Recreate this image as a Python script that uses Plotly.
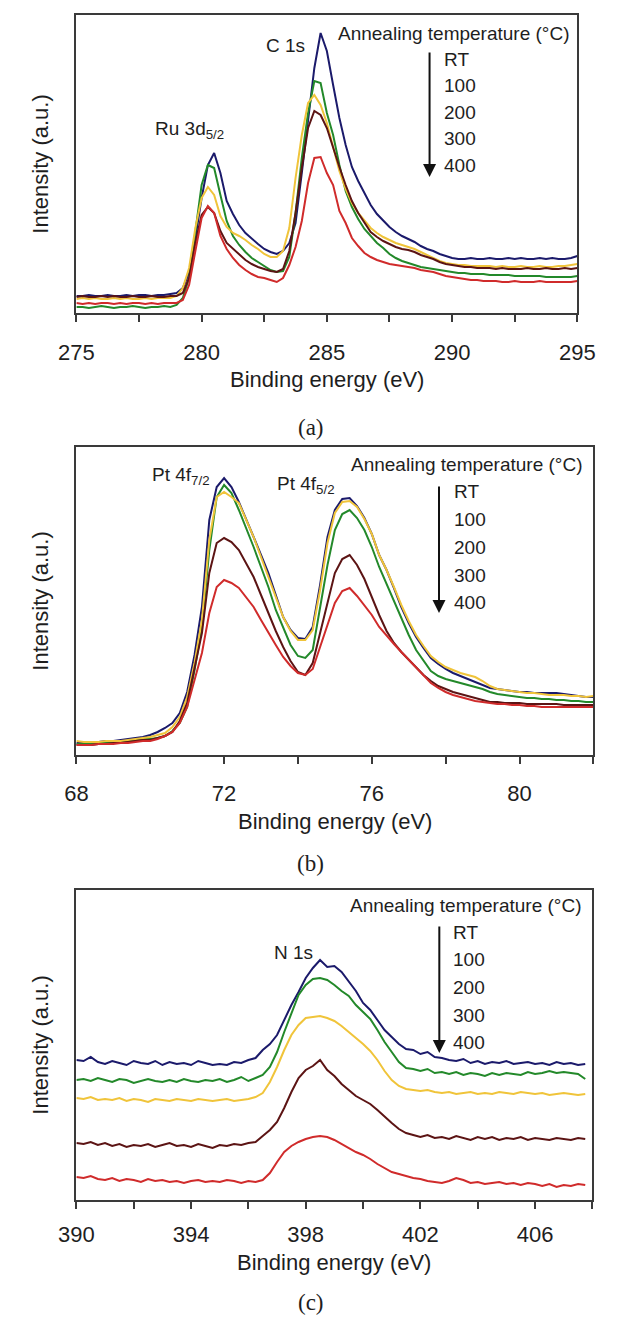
import numpy as np
import plotly.graph_objects as go

W, H = 617, 1322

# ---------------- DATA ----------------
series_names = ["RT", "100", "200", "300", "400"]
colors = ["#1b1a6b", "#23892a", "#f0c43a", "#5c1414", "#d02b2b"]

# Panel (a): Ru 3d / C 1s, 275-295 eV every 0.25 eV
energy_a = np.round(np.arange(275.0, 295.001, 0.25), 2)
a_rt = [17, 17, 18, 17, 17, 18, 17, 17, 18, 17, 18, 18, 17, 18, 18, 19,
        20, 25, 40, 75, 115, 148, 160, 140, 112, 99, 88, 80, 74, 69, 64, 61,
        59, 62, 70, 90, 140, 195, 245, 280, 262, 228, 195, 168, 146, 132, 120, 108,
        99, 92, 86, 81, 77, 74, 71, 67, 64, 62, 59, 57, 55, 54, 54, 55,
        54, 54, 55, 54, 54, 55, 54, 55, 54, 54, 55, 54, 55, 54, 54, 55, 57]
a_100 = [6, 6, 5, 6, 7, 6, 5, 6, 6, 7, 6, 5, 6, 6, 7, 6,
         8, 15, 35, 80, 128, 148, 145, 118, 92, 77, 68, 61, 55, 51, 47, 43,
         41, 42, 56, 100, 155, 200, 232, 230, 200, 178, 148, 122, 106, 94, 84, 77,
         70, 65, 59, 55, 52, 50, 48, 46, 45, 44, 43, 42, 41, 40, 40, 39,
         39, 39, 38, 38, 38, 38, 37, 37, 37, 37, 37, 36, 36, 36, 36, 36, 37]
a_200 = [14, 15, 14, 15, 14, 14, 15, 14, 15, 14, 14, 15, 14, 15, 15, 15,
         17, 25, 45, 85, 115, 126, 118, 97, 86, 80, 77, 73, 68, 64, 59, 56,
         56, 62, 85, 135, 178, 210, 218, 208, 190, 165, 142, 124, 110, 100, 92, 85,
         80, 76, 73, 70, 68, 66, 64, 61, 58, 55, 52, 50, 49, 48, 48, 47,
         47, 47, 47, 46, 47, 46, 46, 47, 46, 46, 47, 46, 46, 47, 47, 48, 49]
a_300 = [16, 17, 16, 16, 17, 16, 17, 16, 16, 17, 16, 16, 17, 16, 16, 17,
         17, 20, 35, 70, 98, 106, 100, 82, 70, 64, 58, 53, 49, 46, 44, 42,
         41, 44, 62, 100, 145, 185, 202, 198, 185, 165, 146, 128, 112, 100, 90, 81,
         76, 72, 69, 66, 64, 63, 61, 58, 56, 54, 51, 49, 48, 47, 46, 46,
         45, 45, 45, 44, 45, 44, 44, 44, 45, 44, 44, 45, 44, 44, 45, 44, 45]
a_400 = [10, 9, 10, 9, 10, 10, 9, 10, 9, 10, 10, 9, 10, 9, 10, 10,
         10, 13, 28, 62, 95, 107, 100, 77, 64, 55, 48, 43, 39, 36, 35, 33,
         31, 35, 48, 66, 92, 130, 155, 156, 140, 128, 102, 90, 75, 67, 60, 56,
         53, 51, 49, 48, 47, 46, 45, 43, 42, 41, 39, 37, 36, 35, 34, 33,
         33, 32, 32, 32, 31, 31, 32, 31, 31, 31, 32, 31, 31, 31, 31, 31, 32]

# Panel (b): Pt 4f, 68-82 eV every 0.2 eV
energy_b = np.round(np.arange(68.0, 82.001, 0.2), 2)
b_rt = [12, 12, 13, 13, 14, 14, 15, 16, 17, 18, 20, 23, 27, 32, 42, 63,
        100, 148, 235, 268, 277, 268, 253, 236, 218, 200, 182, 160, 138, 125, 117, 116,
        128, 170, 218, 245, 256, 257, 249, 237, 221, 200, 185, 167, 148, 132, 118, 107,
        97, 91, 86, 82, 79, 76, 73, 70, 67, 66, 65, 64, 63, 63, 62, 62,
        62, 62, 61, 60, 59, 58, 58]
b_100 = [11, 11, 11, 12, 12, 13, 13, 14, 15, 16, 16, 17, 19, 24, 32, 48,
         85, 128, 205, 258, 270, 262, 245, 227, 208, 188, 168, 145, 128, 110, 99, 97,
         105, 148, 190, 225, 241, 245, 237, 225, 208, 188, 171, 154, 136, 120, 105, 94,
         84, 79, 76, 74, 72, 70, 68, 66, 63, 61, 60, 59, 58, 57, 57, 56,
         56, 55, 55, 54, 54, 53, 53]
b_200 = [14, 13, 13, 13, 14, 14, 14, 15, 16, 17, 18, 20, 22, 28, 38, 58,
         92, 135, 215, 258, 263, 258, 252, 235, 218, 198, 178, 158, 138, 124, 115, 115,
         125, 165, 212, 242, 253, 254, 248, 236, 221, 200, 185, 168, 150, 134, 120, 109,
         99, 93, 88, 85, 82, 80, 78, 74, 69, 66, 65, 64, 63, 62, 62, 61,
         60, 60, 60, 59, 59, 58, 59]
b_300 = [10, 10, 10, 11, 11, 12, 12, 13, 14, 15, 15, 17, 19, 23, 34, 52,
         88, 122, 182, 212, 217, 213, 205, 192, 178, 160, 142, 124, 108, 94, 83, 80,
         92, 122, 155, 182, 196, 200, 190, 176, 158, 140, 124, 112, 103, 95, 87, 80,
         74, 69, 66, 63, 61, 59, 57, 55, 53, 53, 52, 52, 52, 51, 51, 51,
         51, 51, 50, 50, 50, 50, 50]
b_400 = [10, 10, 10, 11, 11, 11, 12, 12, 13, 14, 14, 16, 19, 23, 32, 48,
         75, 102, 142, 168, 175, 172, 167, 158, 148, 135, 122, 110, 98, 89, 82, 80,
         86, 108, 130, 152, 164, 167, 159, 149, 140, 128, 119, 111, 103, 95, 87, 80,
         72, 67, 63, 60, 58, 56, 54, 53, 52, 51, 51, 50, 50, 49, 49, 48,
         48, 48, 48, 48, 48, 48, 48]

# Panel (c): N 1s, 390-407.75 eV every 0.25 eV
energy_c = np.round(np.arange(390.0, 407.751, 0.25), 2)
c_rt = [140, 139, 143, 138, 136, 139, 137, 135, 139, 137, 136, 139, 135, 138, 136, 137,
        135, 139, 137, 135, 136, 135, 138, 137, 140, 142, 150, 156, 165, 180, 195, 208,
        222, 232, 240, 233, 234, 228, 218, 209, 197, 190, 180, 170, 163, 156, 151, 150,
        146, 148, 143, 142, 140, 139, 141, 137, 139, 136, 138, 137, 139, 136, 137, 138,
        136, 137, 135, 138, 136, 137, 135, 136]
c_100 = [120, 121, 119, 122, 120, 118, 121, 120, 117, 119, 121, 119, 118, 120, 118, 121,
         119, 118, 120, 119, 121, 118, 120, 123, 119, 122, 125, 133, 148, 168, 187, 205,
         215, 221, 222, 220, 215, 209, 204, 195, 188, 181, 170, 158, 148, 138, 132, 131,
         129, 131, 127, 128, 126, 128, 125, 127, 126, 124, 127, 125, 127, 126, 125, 128,
         126, 127, 129, 127, 128, 127, 126, 121]
c_200 = [102, 101, 103, 100, 101, 100, 102, 99, 101, 100, 98, 101, 100, 99, 101, 100,
         99, 101, 100, 99, 100, 101, 99, 100, 101, 103, 107, 118, 133, 150, 165, 175,
         182, 183, 184, 182, 179, 174, 168, 162, 156, 149, 140, 129, 120, 114, 111, 110,
         109, 110, 108, 107, 108, 106, 107, 108, 106, 107, 106, 108, 107, 106, 108, 107,
         106, 107, 105, 106, 107, 106, 105, 106]
c_300 = [57, 56, 58, 55, 57, 54, 56, 53, 55, 54, 56, 53, 55, 57, 54, 55,
         53, 56, 54, 52, 55, 54, 56, 55, 57, 58, 64, 70, 78, 92, 108, 122,
         130, 134, 140, 130, 124, 116, 110, 104, 100, 96, 90, 83, 77, 71, 67, 65,
         63, 65, 62, 63, 61, 64, 62, 60, 63, 61, 63, 60, 62, 61, 63, 60,
         62, 61, 60, 62, 61, 60, 62, 61]
c_400 = [23, 22, 24, 21, 20, 22, 19, 21, 20, 18, 21, 19, 20, 18, 19, 17,
         19, 20, 18, 19, 18, 20, 19, 17, 19, 18, 20, 27, 38, 48, 54, 58,
         61, 63, 64, 63, 60, 56, 52, 48, 45, 41, 36, 32, 28, 26, 24, 22,
         21, 19, 18, 17, 19, 22, 20, 17, 18, 16, 17, 18, 16, 17, 15, 17,
         16, 14, 16, 13, 15, 14, 16, 15]

panels = [
    dict(x=energy_a, ys=[a_rt, a_100, a_200, a_300, a_400], rng=[275, 295], dtick=5, minor=2.5,
         box=(62, 594, 15, 313), label="(a)", standoff=12, title_px=380, label_px=427),
    dict(x=energy_b, ys=[b_rt, b_100, b_200, b_300, b_400], rng=[68, 82], dtick=4, minor=2,
         box=(62, 611, 447, 755), label="(b)", standoff=11, title_px=821, label_px=864),
    dict(x=energy_c, ys=[c_rt, c_100, c_200, c_300, c_400], rng=[390, 408], dtick=4, minor=2,
         box=(62, 610, 890, 1200), label="(c)", standoff=7, title_px=1262, label_px=1302),
]
for p in panels:
    for y in p["ys"]:
        assert len(y) == len(p["x"]), (len(y), len(p["x"]))

# ---------------- FIGURE ----------------
fig = go.Figure()
AX = "#3a3a3a"
TXT = "#1e1e1e"
SANS = "Liberation Sans, Arial, sans-serif"

annotations = []
for i, p in enumerate(panels):
    n = "" if i == 0 else str(i + 1)
    xa, ya = "x" + n, "y" + n
    left, right, top, bottom = p["box"]
    hpx = bottom - top
    for name, col, y in zip(series_names, colors, p["ys"]):
        fig.add_trace(go.Scatter(x=p["x"], y=y, mode="lines", name=name,
                                 line=dict(color=col, width=2), xaxis=xa, yaxis=ya,
                                 showlegend=False))
    fig.layout["xaxis" + n] = dict(
        domain=[left / W, right / W], anchor=ya, range=p["rng"],
        tick0=p["rng"][0], dtick=p["dtick"], ticks="outside", ticklen=7, tickwidth=1.5,
        tickcolor=AX, showline=True, mirror=True, linecolor=AX, linewidth=1.5,
        showgrid=False, zeroline=False, ticklabelstandoff=p["standoff"],
        tickfont=dict(family=SANS, size=22, color=TXT),
        minor=dict(tick0=p["rng"][0], dtick=p["minor"], ticks="outside", ticklen=7,
                   tickwidth=1.5, tickcolor=AX, showgrid=False),
    )
    fig.layout["yaxis" + n] = dict(
        domain=[1 - bottom / H, 1 - top / H], anchor=xa, range=[0, hpx],
        showticklabels=False, ticks="", showline=True, mirror=True,
        linecolor=AX, linewidth=1.5, showgrid=False, zeroline=False,
    )
    cx = (left + right) / 2 / W
    common = dict(xref="paper", yref="paper", showarrow=False,
                  xanchor="center", yanchor="middle")
    annotations.append(dict(text="Binding energy (eV)", x=cx, y=1 - p["title_px"] / H,
                            font=dict(family=SANS, size=22, color=TXT), **common))
    annotations.append(dict(text="Intensity (a.u.)", x=23 / W, y=1 - (top + bottom) / 2 / H,
                            textangle=-90, font=dict(family=SANS, size=22, color=TXT), **common))
    annotations.append(dict(text=p["label"], x=311 / W, y=1 - p["label_px"] / H,
                            font=dict(family="Liberation Serif, serif", size=23, color=TXT),
                            **common))

# panel-specific labels (data coordinates: eV, height)
def lab(text, x, y, xa, ya, anchor="left", size=19):
    annotations.append(dict(text=text, x=x, y=y, xref=xa, yref=ya, showarrow=False,
                            xanchor=anchor, yanchor="middle",
                            font=dict(family=SANS, size=size, color=TXT)))

def temps(xa, ya, ax_x, top_h, tip_h, lab_x, title_x, title_h, first_h, step):
    lab("Annealing temperature (°C)", title_x, title_h, xa, ya, anchor="right")
    annotations.append(dict(x=ax_x, y=tip_h, ax=ax_x, ay=top_h, xref=xa, yref=ya,
                            axref=xa, ayref=ya, text="", showarrow=True, arrowhead=2,
                            arrowsize=1.3, arrowwidth=2, arrowcolor="#111"))
    for k, t in enumerate(series_names):
        lab(t, lab_x, first_h - k * step, xa, ya)

# (a)
lab("Ru 3d<sub>5/2</sub>", 278.05, 183, "x", "y")
lab("C 1s", 283.35, 268, "x", "y", anchor="center")
temps("x", "y", 289.1, 262, 136, 289.59, 294.77, 280, 254, 26.5)
# (b)
lab("Pt 4f<sub>7/2</sub>", 69.99, 279, "x2", "y2")
lab("Pt 4f<sub>5/2</sub>", 73.38, 270, "x2", "y2")
temps("x2", "y2", 77.82, 270, 142, 78.18, 81.78, 290, 263, 27.7)
# (c)
lab("N 1s", 397.57, 248, "x3", "y3", anchor="center")
temps("x3", "y3", 402.66, 275, 147, 403.08, 407.7, 295, 268, 27.7)

fig.update_layout(width=W, height=H, margin=dict(l=0, r=0, t=0, b=0),
                  paper_bgcolor="white", plot_bgcolor="white",
                  annotations=annotations, showlegend=False)
fig.write_html("out.html")
